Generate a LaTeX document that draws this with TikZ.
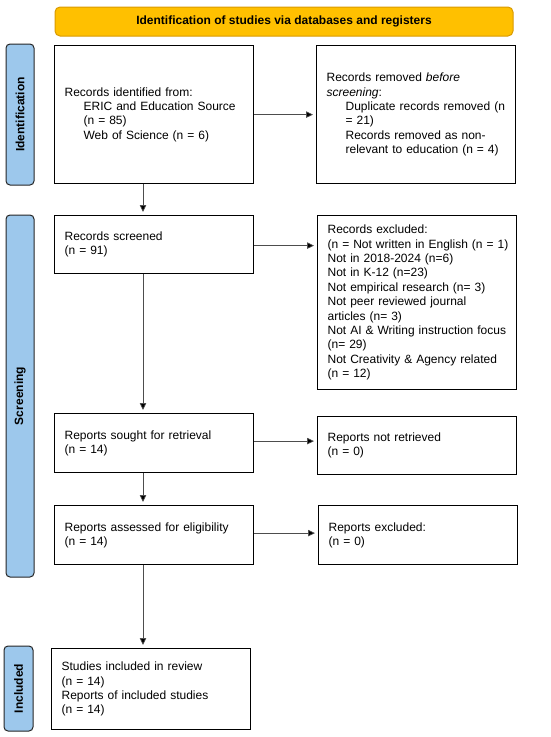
\documentclass[tikz,border=0pt]{standalone}
\usepackage{fontspec}
\setmainfont{Liberation Sans}
\usetikzlibrary{arrows.meta}
\definecolor{headfill}{HTML}{FFC000}
\definecolor{headdraw}{HTML}{D99A00}
\definecolor{sidefill}{HTML}{9DC8EC}
\definecolor{flowgray}{HTML}{4D4D4D}
\begin{document}
\begin{tikzpicture}[x=1pt,y=-1pt,
    every node/.style={font=\fontsize{12}{14.4}\selectfont},
    prisma/.style={draw,line width=1.2pt,anchor=north west,align=left,
      inner xsep=10pt,inner ysep=4pt,text width=179pt,minimum height=#1},
    prisma/.default=58pt,
    phase/.style={draw=black!85,line width=1pt,fill=sidefill,rounded corners=4pt,
      rotate=90,minimum height=28pt,font=\fontsize{12}{14.4}\selectfont\bfseries},
    flow/.style={draw=flowgray,line width=0.7pt,shorten >=3pt,
      -{Triangle[width=6.5pt,length=7pt,fill=black]}}]
    \useasboundingbox (0,0) rectangle (550,737);

    \node[draw=headdraw,line width=1pt,fill=headfill,rounded corners=5pt,
      minimum width=458pt,minimum height=29pt,font=\fontsize{12}{14.4}\selectfont\bfseries]
      (head) at (284,21.5) {Identification of studies via databases and registers};

    % phases
    \node[phase,minimum width=141pt] (ph-id) at (20,114.5) {Identification};
    \node[phase,minimum width=362pt] (ph-scr) at (20,396) {Screening};
    \node[phase,minimum width=85pt,minimum height=29pt] (ph-inc) at (18.5,688.5) {Included};

    % left column
    \node[prisma=138pt] (identified) at (54,45)
      {Records identified from:\\
       \hspace*{19pt}ERIC and Education Source\\
       \hspace*{19pt}(n = 85)\\
       \hspace*{19pt}Web of Science (n = 6)};
    \node[prisma] (screened) at (54,215)
      {Records screened\\(n = 91)};
    \node[prisma=59pt] (sought) at (54,413)
      {Reports sought for retrieval\\(n = 14)};
    \node[prisma=59pt] (assessed) at (54,505)
      {Reports assessed for eligibility\\(n = 14)};
    \node[prisma=81pt] (included) at (51,648)
      {Studies included in review\\(n = 14)\\
       Reports of included studies\\(n = 14)};

    % right column
    \node[prisma=138pt] (removed) at (316,45)
      {Records removed \emph{before}\\
       \emph{screening}:\\
       \hspace*{19pt}Duplicate records removed (n\\
       \hspace*{19pt}= 21)\\
       \hspace*{19pt}Records removed as non-\\
       \hspace*{19pt}relevant to education (n = 4)};
    \node[prisma=174pt] (excluded) at (317,215)
      {Records excluded:\\
       \mbox{(n = Not written in English (n = 1)}\\
       Not in 2018-2024 (n=6)\\
       Not in K-12 (n=23)\\
       Not empirical research (n= 3)\\
       Not peer reviewed journal\\
       articles (n= 3)\\
       \mbox{Not AI \& Writing instruction focus}\\
       (n= 29)\\
       Not Creativity \& Agency related\\
       (n = 12)};
    \node[prisma] (notretrieved) at (317,416)
      {Reports not retrieved\\(n = 0)};
    \node[prisma=59pt] (reportsexcl) at (318,505)
      {Reports excluded:\\(n = 0)};

    \coordinate (spine) at (143,0);
    \draw[flow] (identified.south -| spine) -- (screened.north -| spine);
    \draw[flow] (screened.south -| spine) -- (sought.north -| spine);
    \draw[flow] (sought.south -| spine) -- (assessed.north -| spine);
    \draw[flow] (assessed.south -| spine) -- (included.north -| spine);

    \draw[flow] (identified.east) -- (identified.east -| removed.west);
    \draw[flow] ([yshift=-1pt]screened.east) -- ([yshift=-1pt]screened.east -| excluded.west);
    \draw[flow] ([yshift=2pt]sought.east) -- ([yshift=2pt]sought.east -| notretrieved.west);
    \draw[flow] ([yshift=2pt]assessed.east) -- ([yshift=2pt]assessed.east -| reportsexcl.west);
\end{tikzpicture}
\end{document}
